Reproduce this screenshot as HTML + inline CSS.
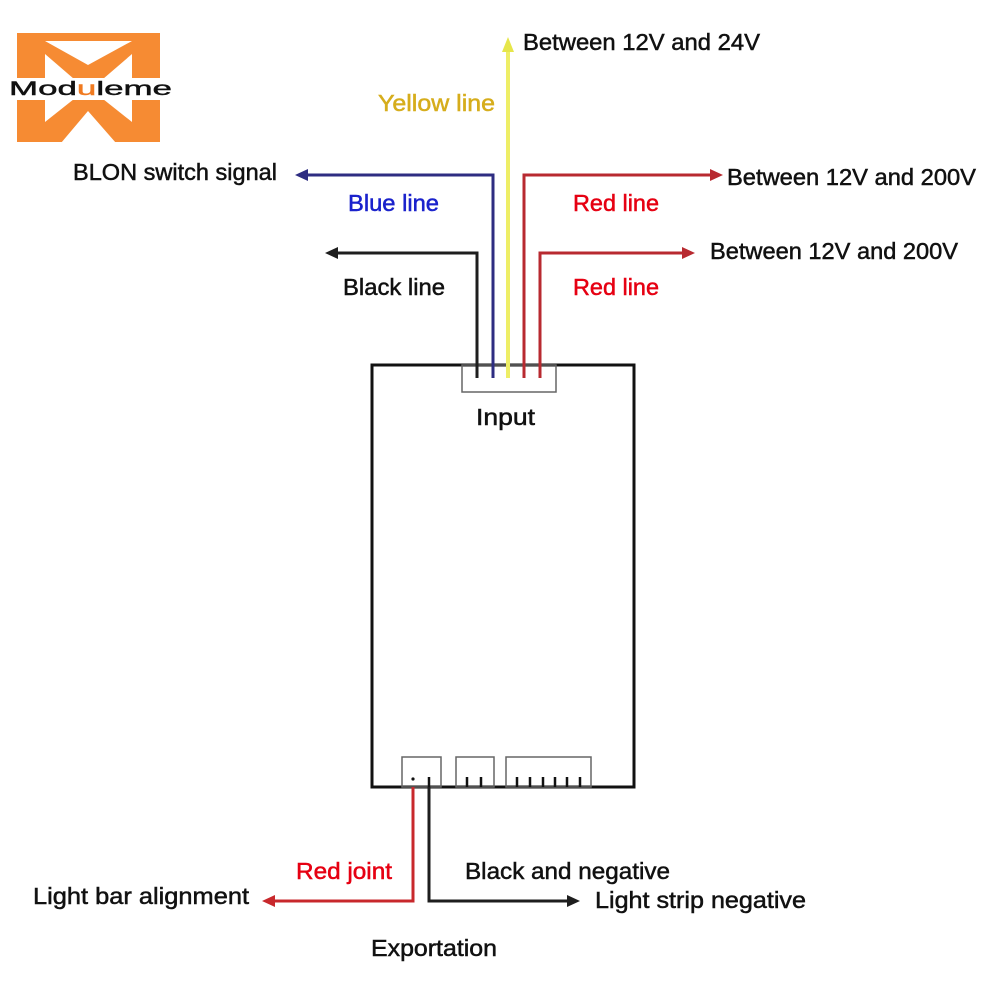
<!DOCTYPE html>
<html>
<head>
<meta charset="utf-8">
<style>
  html, body { margin:0; padding:0; background:#fff; }
  body { width:1000px; height:1000px; overflow:hidden; }
  svg { display:block; }
  text { font-family: "Liberation Sans", "DejaVu Sans", sans-serif; }
</style>
</head>
<body>
<svg width="1000" height="1000" viewBox="0 0 1000 1000" xmlns="http://www.w3.org/2000/svg">
  <rect x="0" y="0" width="1000" height="1000" fill="#ffffff"/>

  <!-- Logo -->
  <g fill="#f68b33">
    <rect x="17" y="33" width="143" height="45"/>
    <rect x="17" y="100" width="143" height="42"/>
  </g>
  <g fill="#ffffff">
    <polygon points="45,41 132,41 88,65"/>
    <polygon points="45,54 45,79 74,79"/>
    <polygon points="132,54 132,79 103,79"/>
    <polygon points="45,99 74,99 45,122"/>
    <polygon points="132,99 103,99 132,122"/>
    <polygon points="61,143 116,143 88,111"/>
  </g>
  <text x="9" y="95" font-size="19" textLength="163" lengthAdjust="spacingAndGlyphs" fill="#111" stroke="#111" stroke-width="0.4">Mod<tspan fill="#f07a20" stroke="#f07a20">u</tspan>leme</text>

  <!-- Main box -->
  <rect x="372" y="365" width="262" height="422" fill="none" stroke="#111" stroke-width="3"/>

  <!-- Input connector -->
  <rect x="462" y="365" width="94" height="27" fill="none" stroke="#666" stroke-width="1.5"/>

  <!-- Wires top -->
  <g fill="none" stroke-width="3" stroke-linejoin="miter">
    <polyline points="477,378 477,253 333,253" stroke="#1e1e1e"/>
    <polyline points="493,378 493,175 303,175" stroke="#2e2d82"/>
    <polyline points="508,378 508,50" stroke="#eeee66" stroke-width="4"/>
    <polyline points="524,378 524,175 714,175" stroke="#b82a30"/>
    <polyline points="540,378 540,253 686,253" stroke="#b82a30"/>
  </g>
  <polygon points="325,253 338,247 338,259" fill="#1e1e1e"/>
  <polygon points="295,175 308,169 308,181" fill="#2e2d82"/>
  <polygon points="508,37 502,52 514,52" fill="#e6e64a"/>
  <polygon points="723,175 710,169 710,181" fill="#b82a30"/>
  <polygon points="695,253 682,247 682,259" fill="#b82a30"/>

  <!-- Bottom connectors -->
  <g fill="none" stroke="#666" stroke-width="1.5">
    <rect x="402" y="757" width="39" height="30"/>
    <rect x="456" y="757" width="38" height="30"/>
    <rect x="506" y="757" width="85" height="30"/>
  </g>
  <g stroke="#111" stroke-width="2.5">
    <line x1="467" y1="777" x2="467" y2="787"/>
    <line x1="481" y1="777" x2="481" y2="787"/>
    <line x1="517" y1="777" x2="517" y2="787"/>
    <line x1="530" y1="777" x2="530" y2="787"/>
    <line x1="543" y1="777" x2="543" y2="787"/>
    <line x1="555" y1="777" x2="555" y2="787"/>
    <line x1="567" y1="777" x2="567" y2="787"/>
    <line x1="580" y1="777" x2="580" y2="787"/>
    <line x1="429" y1="777" x2="429" y2="787"/>
  </g>
  <circle cx="413" cy="779" r="1.6" fill="#111"/>

  <!-- Bottom wires -->
  <polyline points="413,787 413,901 272,901" fill="none" stroke="#c8282c" stroke-width="3"/>
  <polyline points="429,787 429,901 570,901" fill="none" stroke="#1e1e1e" stroke-width="3"/>
  <polygon points="262,901 275,895 275,907" fill="#c8282c"/>
  <polygon points="580,901 567,895 567,907" fill="#1e1e1e"/>

  <!-- Labels -->
  <g font-size="23" stroke-width="0.5">
    <text x="523" y="50" textLength="237" lengthAdjust="spacingAndGlyphs" fill="#111" stroke="#111">Between 12V and 24V</text>
    <text x="378" y="111" textLength="117" lengthAdjust="spacingAndGlyphs" fill="#d6ad1c" stroke="#d6ad1c">Yellow line</text>
    <text x="73" y="180" textLength="204" lengthAdjust="spacingAndGlyphs" fill="#111" stroke="#111">BLON switch signal</text>
    <text x="348" y="211" textLength="91" lengthAdjust="spacingAndGlyphs" fill="#1a22cc" stroke="#1a22cc">Blue line</text>
    <text x="573" y="211" textLength="86" lengthAdjust="spacingAndGlyphs" fill="#e60012" stroke="#e60012">Red line</text>
    <text x="727" y="185" textLength="249" lengthAdjust="spacingAndGlyphs" fill="#111" stroke="#111">Between 12V and 200V</text>
    <text x="710" y="259" textLength="248" lengthAdjust="spacingAndGlyphs" fill="#111" stroke="#111">Between 12V and 200V</text>
    <text x="343" y="295" textLength="102" lengthAdjust="spacingAndGlyphs" fill="#111" stroke="#111">Black line</text>
    <text x="573" y="295" textLength="86" lengthAdjust="spacingAndGlyphs" fill="#e60012" stroke="#e60012">Red line</text>
    <text x="476" y="425" textLength="59" lengthAdjust="spacingAndGlyphs" fill="#111" stroke="#111">Input</text>
    <text x="296" y="879" textLength="96" lengthAdjust="spacingAndGlyphs" fill="#e60012" stroke="#e60012">Red joint</text>
    <text x="465" y="879" textLength="205" lengthAdjust="spacingAndGlyphs" fill="#111" stroke="#111">Black and negative</text>
    <text x="33" y="904" textLength="216" lengthAdjust="spacingAndGlyphs" fill="#111" stroke="#111">Light bar alignment</text>
    <text x="595" y="908" textLength="211" lengthAdjust="spacingAndGlyphs" fill="#111" stroke="#111">Light strip negative</text>
    <text x="371" y="956" textLength="126" lengthAdjust="spacingAndGlyphs" fill="#111" stroke="#111">Exportation</text>
  </g>
</svg>
</body>
</html>
